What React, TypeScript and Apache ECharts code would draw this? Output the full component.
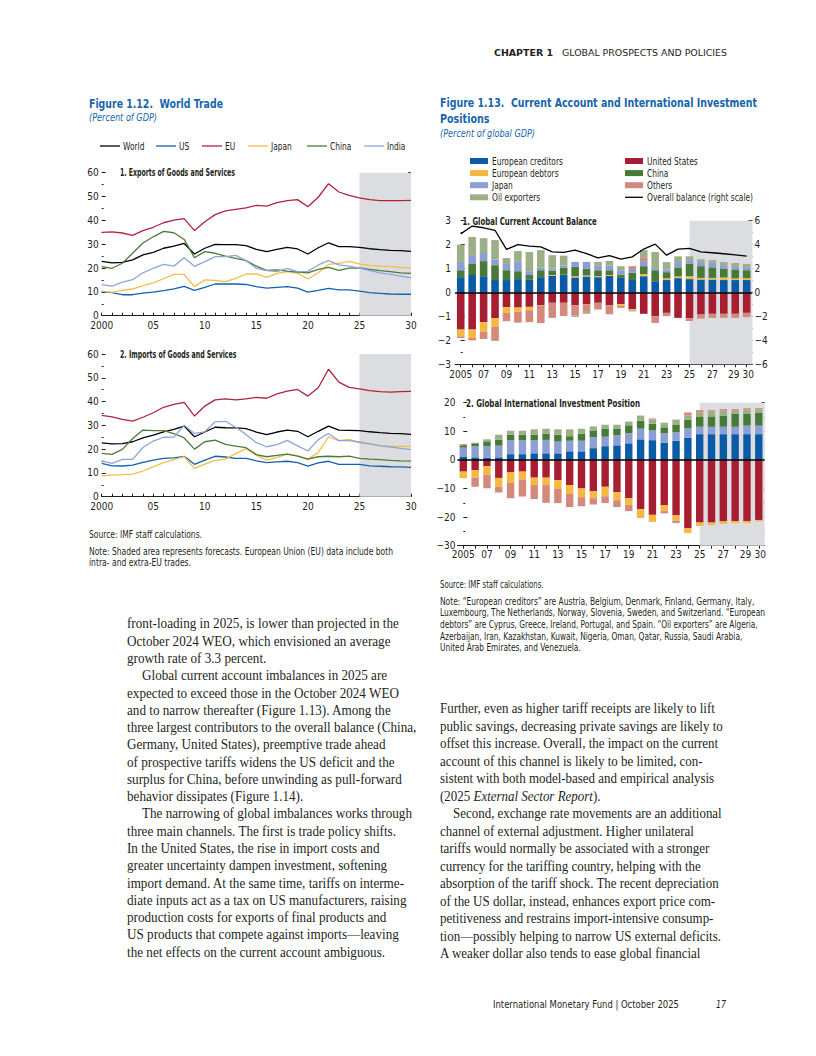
import React, { useEffect, useLayoutEffect, useMemo, useRef, useState } from "react";
import * as echarts from "echarts";

// ---------- DATA ----------
const tradeYears = [2000, 2001, 2002, 2003, 2004, 2005, 2006, 2007, 2008, 2009, 2010, 2011, 2012, 2013, 2014, 2015, 2016, 2017, 2018, 2019, 2020, 2021, 2022, 2023, 2024, 2025, 2026, 2027, 2028, 2029, 2030];
const tradeTickYears = [2000, 2005, 2010, 2015, 2020, 2025, 2030];
const tradeTickLabels = ["2000", "05", "10", "15", "20", "25", "30"];
const tradeForecastStart = 2025;

const exportsWorld = [22.8, 22.2, 22.4, 23.4, 25.5, 26.6, 28.3, 29.2, 30.3, 25.9, 28.3, 29.9, 29.8, 29.8, 29.4, 27.8, 26.9, 27.8, 28.7, 28.0, 25.9, 28.5, 30.6, 29.0, 29.0, 28.7, 28.1, 27.7, 27.4, 27.3, 27.0];
const exportsUS = [10.1, 9.7, 8.8, 8.8, 9.5, 9.9, 10.5, 11.3, 12.3, 10.6, 11.9, 13.3, 13.3, 13.3, 13.1, 12.2, 11.6, 11.9, 12.2, 11.6, 9.9, 10.6, 11.5, 10.8, 10.8, 10.3, 9.7, 9.4, 9.1, 9.0, 9.0];
const exportsEU = [35.0, 35.2, 34.7, 33.7, 35.7, 37.1, 39.0, 40.1, 40.7, 35.7, 39.4, 42.4, 44.0, 44.6, 45.2, 46.3, 46.0, 47.4, 48.3, 48.7, 45.7, 49.7, 55.4, 51.9, 50.5, 49.4, 48.7, 48.3, 48.3, 48.3, 48.4];
const exportsJapan = [10.3, 9.8, 10.6, 11.2, 12.6, 13.8, 15.5, 17.3, 17.3, 12.2, 15.0, 14.8, 14.3, 15.7, 17.5, 17.5, 16.1, 17.8, 18.5, 17.8, 15.4, 18.0, 21.5, 22.0, 22.8, 21.7, 21.1, 20.8, 20.6, 20.3, 20.0];
const exportsChina = [20.6, 19.9, 22.0, 26.2, 30.5, 33.1, 35.4, 34.8, 32.0, 24.3, 26.9, 26.2, 25.0, 24.1, 23.1, 20.8, 19.0, 19.2, 18.7, 18.3, 18.0, 19.4, 20.3, 19.0, 20.0, 20.1, 19.4, 18.9, 18.5, 18.0, 17.8];
const exportsIndia = [13.0, 12.4, 14.1, 15.1, 18.0, 19.9, 21.5, 20.8, 24.3, 20.7, 22.7, 24.8, 24.8, 25.3, 23.1, 19.9, 18.9, 18.5, 19.9, 18.5, 18.6, 21.3, 23.1, 21.3, 20.8, 20.0, 18.9, 18.0, 17.3, 16.6, 15.9];

const importsWorld = [22.6, 22.2, 22.3, 23.1, 24.7, 25.9, 27.3, 28.3, 29.7, 25.2, 27.2, 29.2, 29.0, 28.9, 28.6, 27.2, 26.1, 27.2, 28.0, 27.5, 25.2, 27.5, 29.7, 28.0, 27.9, 27.8, 27.3, 26.9, 26.6, 26.5, 26.2];
const importsUS = [14.0, 13.0, 12.9, 13.3, 14.4, 15.4, 16.1, 16.3, 17.0, 13.6, 15.4, 17.0, 16.7, 16.1, 16.1, 15.1, 14.3, 14.6, 14.9, 14.3, 12.9, 14.2, 14.9, 13.6, 13.6, 13.6, 13.0, 12.8, 12.6, 12.5, 12.3];
const importsEU = [34.2, 33.6, 32.5, 31.8, 33.4, 35.3, 37.6, 38.8, 39.7, 33.9, 38.1, 40.7, 41.1, 40.7, 41.1, 41.8, 41.4, 43.2, 44.4, 45.1, 42.3, 45.8, 53.6, 48.2, 46.0, 45.3, 44.6, 44.2, 44.0, 44.2, 44.3];
const importsJapan = [8.8, 9.1, 9.3, 9.5, 10.8, 12.5, 14.3, 15.6, 16.8, 11.9, 13.7, 15.3, 15.8, 18.1, 20.2, 17.5, 15.4, 16.5, 17.9, 17.2, 15.7, 18.6, 25.1, 23.6, 24.1, 22.7, 22.2, 21.6, 21.3, 21.2, 21.2];
const importsChina = [18.2, 17.8, 19.9, 24.5, 28.0, 27.8, 27.8, 26.5, 24.7, 20.0, 23.1, 23.8, 22.0, 21.3, 20.6, 17.7, 16.8, 17.4, 17.9, 17.1, 15.8, 16.8, 17.0, 16.8, 17.1, 16.1, 15.8, 15.6, 15.3, 15.1, 15.0];
const importsIndia = [15.1, 14.0, 15.7, 15.7, 20.7, 23.4, 25.0, 25.1, 30.0, 26.6, 27.3, 31.5, 31.7, 29.2, 26.2, 22.7, 21.0, 21.9, 23.7, 21.4, 19.2, 24.0, 26.6, 23.6, 23.6, 23.0, 22.2, 21.4, 20.9, 20.3, 19.8];

const caYears = ["2005", "2006", "2007", "2008", "2009", "2010", "2011", "2012", "2013", "2014", "2015", "2016", "2017", "2018", "2019", "2020", "2021", "2022", "2023", "2024", "2025", "2026", "2027", "2028", "2029", "2030"];
const caLabelCats = ["2005", "2007", "2009", "2011", "2013", "2015", "2017", "2019", "2021", "2023", "2025", "2027", "2029", "2030"];
const caLabelText = ["2005", "07", "09", "11", "13", "15", "17", "19", "21", "23", "25", "27", "29", "30"];
const caForecastStartIndex = 20;

const caCreditors = [0.64, 0.73, 0.68, 0.52, 0.52, 0.56, 0.53, 0.64, 0.70, 0.73, 0.63, 0.67, 0.64, 0.69, 0.61, 0.52, 0.68, 0.47, 0.52, 0.60, 0.56, 0.54, 0.54, 0.52, 0.52, 0.52];
const caDebtors = [-0.28, -0.35, -0.41, -0.37, -0.24, -0.18, -0.14, -0.02, 0.03, 0.01, 0.05, 0.04, 0.04, 0.04, -0.07, -0.04, 0.09, 0.0, 0.07, 0.07, 0.12, 0.07, 0.07, 0.11, 0.07, 0.08];
const caChina = [0.29, 0.46, 0.63, 0.62, 0.41, 0.33, 0.20, 0.29, 0.18, 0.29, 0.39, 0.28, 0.25, 0.20, 0.14, 0.30, 0.33, 0.46, 0.26, 0.38, 0.53, 0.49, 0.44, 0.37, 0.37, 0.33];
const caJapan = [0.35, 0.34, 0.34, 0.24, 0.26, 0.39, 0.16, 0.10, 0.08, 0.10, 0.21, 0.29, 0.21, 0.19, 0.18, 0.16, 0.21, 0.09, 0.11, 0.22, 0.14, 0.17, 0.19, 0.14, 0.14, 0.13];
const caOthers = [-0.07, -0.10, -0.29, -0.58, -0.35, -0.45, -0.50, -0.72, -0.63, -0.55, -0.42, -0.32, -0.28, -0.38, -0.08, 0.12, 0.14, -0.28, -0.14, 0.0, -0.12, -0.17, -0.17, -0.17, -0.17, -0.18];
const caOil = [0.72, 0.79, 0.62, 0.81, 0.25, 0.45, 0.80, 0.74, 0.57, 0.41, -0.07, -0.08, 0.14, 0.20, 0.17, -0.05, 0.32, 0.67, 0.31, 0.24, 0.16, 0.12, 0.11, 0.13, 0.13, 0.13];
const caUS = [-1.55, -1.55, -1.24, -1.07, -0.61, -0.63, -0.60, -0.54, -0.43, -0.43, -0.53, -0.49, -0.43, -0.53, -0.49, -0.70, -0.89, -0.99, -0.85, -1.06, -1.07, -0.92, -0.89, -0.89, -0.89, -0.85];
const caOverall = [4.9, 5.55, 5.41, 5.2, 3.6, 4.0, 3.88, 3.82, 3.4, 3.35, 3.54, 3.24, 2.9, 3.08, 2.79, 2.98, 3.63, 4.04, 3.12, 3.63, 3.68, 3.4, 3.32, 3.24, 3.15, 3.04];

const iipCreditors = [1.2, 0.9, 0.8, 0.9, 2.0, 2.0, 2.3, 2.3, 2.3, 3.0, 3.0, 4.1, 4.8, 5.1, 5.8, 7.2, 6.9, 6.0, 6.7, 7.8, 9.0, 9.0, 9.0, 9.0, 9.0, 9.0];
const iipJapan = [3.1, 3.9, 4.0, 4.1, 4.9, 4.9, 4.6, 4.7, 4.1, 3.7, 3.7, 3.8, 3.3, 3.5, 3.5, 3.7, 3.4, 3.3, 3.0, 3.2, 2.6, 2.6, 2.6, 2.6, 3.0, 3.0];
const iipChina = [0.8, 1.0, 1.7, 2.1, 1.9, 1.9, 1.9, 2.2, 2.4, 1.6, 2.4, 2.4, 2.9, 2.4, 2.8, 2.8, 2.3, 2.1, 2.7, 3.1, 3.6, 3.6, 3.9, 4.6, 4.2, 4.5];
const iipOil = [0.0, 0.2, 0.7, 1.7, 1.4, 1.4, 1.9, 1.7, 1.9, 2.4, 1.8, 1.4, 1.3, 1.3, 1.3, 1.8, 1.5, 1.6, 1.7, 1.4, 1.3, 1.7, 1.7, 1.0, 1.4, 1.1];
const iipOthers = [0.4, -3.2, -4.6, -2.0, -5.3, -5.9, -4.9, -6.2, -5.1, -4.6, -3.2, -2.2, -2.4, -2.4, -2.1, -0.2, 0.4, -0.8, -0.9, 1.1, 0.9, 0.5, 0.6, 0.6, 0.5, 0.5];
const iipUS = [-4.1, -3.6, -2.2, -6.3, -4.4, -4.1, -6.2, -6.2, -7.1, -8.8, -10.0, -11.0, -9.4, -11.3, -13.4, -17.2, -19.2, -15.9, -19.4, -23.8, -21.9, -21.9, -21.5, -21.4, -21.4, -21.0];
const iipDebtors = [-2.3, -2.6, -3.1, -3.1, -3.7, -2.8, -2.6, -2.6, -2.9, -3.1, -3.0, -2.4, -3.3, -2.8, -2.4, -2.9, -2.5, -2.0, -1.8, -1.8, -1.2, -0.9, -0.9, -0.7, -0.7, -0.5];

// ---------- STYLE ----------
const INK = "#231f20";
const TITLE_BLUE = "#1765ad";
const SHADE = "#dcdde0";
const SANS = "'Liberation Sans Narrow', 'DejaVu Sans Condensed', 'Arial Narrow', 'Liberation Sans', sans-serif";
const SERIF = "'Liberation Serif', 'DejaVu Serif', serif";

const C = {
  world: "#000000",
  us: "#1262ad",
  eu: "#b0233b",
  japan: "#f5bd48",
  china: "#4b7c38",
  india: "#8fa5da",
  creditors: "#0b5aa6",
  debtors: "#f5b841",
  japanCA: "#8b9fd5",
  oil: "#9daf86",
  usCA: "#a71d32",
  chinaCA: "#477a36",
  others: "#d3897b",
};

const minus = (v: number) => String(v).replace("-", "\u2212");
const axisText = { color: INK, fontFamily: SANS, fontSize: 10 };

let measureCtx: CanvasRenderingContext2D | null = null;
function textWidth(text: string, size: number, weight: string = "normal") {
  if (!measureCtx) measureCtx = document.createElement("canvas").getContext("2d");
  if (!measureCtx) return text.length * size * 0.5;
  measureCtx.font = `${weight} ${size}px ${SANS}`;
  return measureCtx.measureText(text).width;
}

function TextLine(p: {
  x: number; y: number; w?: number; k?: number; size: number; family: string;
  weight?: string | number; italic?: boolean; color?: string; children: React.ReactNode;
}) {
  const ref = useRef<HTMLSpanElement>(null);
  const [fit, setFit] = useState(1);
  useLayoutEffect(() => {
    if (p.w && ref.current) {
      const nat = ref.current.getBoundingClientRect().width;
      if (nat > 0) setFit(p.w / nat);
    }
  }, [p.w]);
  const lh = p.size * 1.3;
  const s = p.w ? fit : p.k ?? 1;
  return (
    <div
      style={{
        position: "absolute", left: p.x, top: p.y - lh / 2, height: lh, lineHeight: `${lh}px`,
        fontSize: p.size, fontFamily: p.family, fontWeight: p.weight ?? "normal",
        fontStyle: p.italic ? "italic" : "normal", color: p.color ?? INK, whiteSpace: "pre",
        transform: `scaleX(${s})`, transformOrigin: "0 0",
      }}
    >
      <span ref={ref}>{p.children}</span>
    </div>
  );
}

const leftBody: { t: React.ReactNode; indent?: boolean }[] = [
  { t: "front-loading in 2025, is lower than projected in the" },
  { t: "October 2024 WEO, which envisioned an average" },
  { t: "growth rate of 3.3 percent." },
  { t: "Global current account imbalances in 2025 are", indent: true },
  { t: "expected to exceed those in the October 2024 WEO" },
  { t: "and to narrow thereafter (Figure 1.13). Among the" },
  { t: "three largest contributors to the overall balance (China," },
  { t: "Germany, United States), preemptive trade ahead" },
  { t: "of prospective tariffs widens the US deficit and the" },
  { t: "surplus for China, before unwinding as pull-forward" },
  { t: "behavior dissipates (Figure 1.14)." },
  { t: "The narrowing of global imbalances works through", indent: true },
  { t: "three main channels. The first is trade policy shifts." },
  { t: "In the United States, the rise in import costs and" },
  { t: "greater uncertainty dampen investment, softening" },
  { t: "import demand. At the same time, tariffs on interme-" },
  { t: "diate inputs act as a tax on US manufacturers, raising" },
  { t: "production costs for exports of final products and" },
  { t: "US products that compete against imports\u2014leaving" },
  { t: "the net effects on the current account ambiguous." },
];

const rightBody: { t: React.ReactNode; indent?: boolean }[] = [
  { t: "Further, even as higher tariff receipts are likely to lift" },
  { t: "public savings, decreasing private savings are likely to" },
  { t: "offset this increase. Overall, the impact on the current" },
  { t: "account of this channel is likely to be limited, con-" },
  { t: "sistent with both model-based and empirical analysis" },
  { t: <>(2025 <i>External Sector Report</i>).</> },
  { t: "Second, exchange rate movements are an additional", indent: true },
  { t: "channel of external adjustment. Higher unilateral" },
  { t: "tariffs would normally be associated with a stronger" },
  { t: "currency for the tariffing country, helping with the" },
  { t: "absorption of the tariff shock. The recent depreciation" },
  { t: "of the US dollar, instead, enhances export price com-" },
  { t: "petitiveness and restrains import-intensive consump-" },
  { t: "tion\u2014possibly helping to narrow US external deficits." },
  { t: "A weaker dollar also tends to ease global financial" },
];

// legend entries (label, colour)
const tradeLegend: [string, string][] = [["World", C.world], ["US", C.us], ["EU", C.eu], ["Japan", C.japan], ["China", C.china], ["India", C.india]];
const caLegendLeft: [string, string][] = [["European creditors", C.creditors], ["European debtors", C.debtors], ["Japan", C.japanCA], ["Oil exporters", C.oil]];
const caLegendRight: [string, string][] = [["United States", C.usCA], ["China", C.chinaCA], ["Others", C.others], ["Overall balance (right scale)", "#000000"]];

function buildOption() {
  const lineSeries = (name: string, color: string, vals: number[], xi: number, yi: number) => ({
    type: "line", name, xAxisIndex: xi, yAxisIndex: yi, symbol: "none", z: 3,
    lineStyle: { color, width: 1.3 }, itemStyle: { color },
    data: tradeYears.map((y, i) => [y, vals[i]]),
  });
  const shade = (name: string, xi: number, yi: number, from: number, to: number) => ({
    type: "line", name, xAxisIndex: xi, yAxisIndex: yi, data: [], silent: true,
    markArea: { silent: true, label: { show: false }, itemStyle: { color: SHADE }, data: [[{ xAxis: from }, { xAxis: to }]] },
  });
  const zeroLine = { silent: true, symbol: ["none", "none"], label: { show: false }, lineStyle: { color: "#000", width: 1.5, type: "solid" }, data: [{ yAxis: 0 }] };
  const bar = (name: string, color: string, vals: number[], xi: number, yi: number, stack: string, w: number, extra: any = {}) => ({
    type: "bar", name, xAxisIndex: xi, yAxisIndex: yi, stack, stackStrategy: "samesign", barWidth: w,
    itemStyle: { color }, data: vals, z: 2, ...extra,
  });

  const tradeX = (g: number) => ({
    type: "value", gridIndex: g, min: 2000, max: 2030, interval: 1,
    axisLine: { show: true, onZero: false, lineStyle: { color: INK, width: 1 } },
    axisTick: { show: true, inside: true, length: 3, lineStyle: { color: INK } },
    axisLabel: { ...axisText, margin: 5, formatter: (v: number) => { const i = tradeTickYears.indexOf(v); return i >= 0 ? tradeTickLabels[i] : ""; } },
    splitLine: { show: false },
  });
  const yLeft = (g: number, min: number, max: number, interval: number, margin = 3) => ({
    type: "value", gridIndex: g, position: "left", min, max, interval,
    axisLine: { show: false },
    axisTick: { show: true, inside: true, length: 4, lineStyle: { color: INK } },
    minorTick: { show: true, splitNumber: 2, length: 2, lineStyle: { color: INK } },
    axisLabel: { ...axisText, margin, formatter: minus },
    splitLine: { show: false }, minorSplitLine: { show: false },
  });
  const yRight = (g: number, min: number, max: number, interval: number, labels: boolean) => ({
    type: "value", gridIndex: g, position: "right", min, max, interval,
    axisLine: { show: false },
    axisTick: { show: true, inside: true, length: labels ? 4 : 3, lineStyle: { color: INK } },
    minorTick: { show: labels, splitNumber: 2, length: 2, lineStyle: { color: INK } },
    axisLabel: { ...axisText, show: labels, margin: 2, formatter: minus },
    splitLine: { show: false },
  });
  const richBase = { fontSize: 10, fontFamily: SANS, color: INK };
  const catX = (g: number) => ({
    type: "category", gridIndex: g, data: caYears, boundaryGap: true,
    axisLine: { show: true, onZero: false, lineStyle: { color: INK, width: 1 } },
    axisTick: { show: true, inside: false, length: 3, alignWithLabel: true, interval: 0, lineStyle: { color: INK } },
    axisLabel: {
      ...axisText, interval: 0, margin: g === 2 ? 5 : 4,
      rich: { l: { ...richBase, padding: [0, 3, 0, 0] }, r: { ...richBase, padding: [0, 0, 0, 3] } },
      formatter: (v: string) => {
        const i = caLabelCats.indexOf(v);
        if (i < 0) return "";
        if (i === caLabelCats.length - 2) return `{l|${caLabelText[i]}}`;
        if (i === caLabelCats.length - 1) return `{r|${caLabelText[i]}}`;
        return caLabelText[i];
      },
    },
    splitLine: { show: false },
  });
  const hiddenX = (g: number) => ({ type: "value", gridIndex: g, min: -0.5, max: caYears.length - 0.5, show: false });

  // fitted graphic texts (condensed look)
  const fitted = (text: string, x: number, y: number, targetW: number, size: number, weight = "normal") => ({
    type: "text", x, y, silent: true, scaleX: targetW / textWidth(text, size, weight),
    style: { text, fill: INK, fontFamily: SANS, fontSize: size, fontWeight: weight, verticalAlign: "middle", align: "left" },
  });
  const legendK = 106 / textWidth("Overall balance (right scale)", 10.5);
  const legendText = (text: string, x: number, y: number) => ({
    type: "text", x, y, silent: true, scaleX: legendK,
    style: { text, fill: INK, fontFamily: SANS, fontSize: 10.5, verticalAlign: "middle", align: "left" },
  });

  const tradeLegendX = [100, 156, 202, 248, 307, 364];
  const legendRowsY = [161, 173.1, 185.2, 197.3];
  const graphics: any[] = [
    fitted("1. Exports of Goods and Services", 120, 172.7, 115, 10.8, "bold"),
    fitted("2. Imports of Goods and Services", 120, 354, 116.7, 10.8, "bold"),
    fitted("1. Global Current Account Balance", 462.5, 220.7, 134.5, 10.8, "bold"),
    fitted("2. Global International Investment Position", 466, 402.7, 174, 10.8, "bold"),
  ];
  tradeLegend.forEach(([name, color], i) => {
    const x = tradeLegendX[i];
    graphics.push({ type: "line", silent: true, shape: { x1: x, y1: 146, x2: x + 20, y2: 146 }, style: { stroke: color, lineWidth: 1.3 } });
    graphics.push(legendText(name, x + 23, 146));
  });
  caLegendLeft.forEach(([name, color], i) => {
    const y = legendRowsY[i];
    graphics.push({ type: "rect", silent: true, shape: { x: 470, y: y - 3, width: 18, height: 6 }, style: { fill: color } });
    graphics.push(legendText(name, 492, y));
  });
  caLegendRight.forEach(([name, color], i) => {
    const y = legendRowsY[i];
    if (i === caLegendRight.length - 1) {
      graphics.push({ type: "line", silent: true, shape: { x1: 625, y1: y, x2: 643, y2: y }, style: { stroke: color, lineWidth: 1.3 } });
    } else {
      graphics.push({ type: "rect", silent: true, shape: { x: 625, y: y - 3, width: 18, height: 6 }, style: { fill: color } });
    }
    graphics.push(legendText(name, 647, y));
  });

  return {
    animation: false,
    textStyle: { fontFamily: SANS },
    grid: [
      { left: 101.7, top: 172.7, width: 309.3, height: 143, containLabel: false, outerBoundsMode: "none" },
      { left: 101.7, top: 354, width: 309.3, height: 142.7, containLabel: false, outerBoundsMode: "none" },
      { left: 455, top: 220.7, width: 297.4, height: 143.6, containLabel: false, outerBoundsMode: "none" },
      { left: 457.4, top: 402.7, width: 307.3, height: 143, containLabel: false, outerBoundsMode: "none" },
    ],
    xAxis: [tradeX(0), tradeX(1), catX(2), hiddenX(2), catX(3), hiddenX(3)],
    yAxis: [
      yLeft(0, 0, 60, 10), yRight(0, 0, 60, 5, false),
      yLeft(1, 0, 60, 10), yRight(1, 0, 60, 5, false),
      yLeft(2, -3, 3, 1, 4), yRight(2, -6, 6, 2, true),
      yLeft(3, -30, 20, 10, 2), yRight(3, -30, 20, 5, false),
    ],
    graphic: graphics,
    series: [
      shade("shadeExports", 0, 0, tradeForecastStart, 2030),
      shade("shadeImports", 1, 2, tradeForecastStart, 2030),
      lineSeries("World", C.world, exportsWorld, 0, 0),
      lineSeries("US", C.us, exportsUS, 0, 0),
      lineSeries("EU", C.eu, exportsEU, 0, 0),
      lineSeries("Japan", C.japan, exportsJapan, 0, 0),
      lineSeries("China", C.china, exportsChina, 0, 0),
      lineSeries("India", C.india, exportsIndia, 0, 0),
      lineSeries("World", C.world, importsWorld, 1, 2),
      lineSeries("US", C.us, importsUS, 1, 2),
      lineSeries("EU", C.eu, importsEU, 1, 2),
      lineSeries("Japan", C.japan, importsJapan, 1, 2),
      lineSeries("China", C.china, importsChina, 1, 2),
      lineSeries("India", C.india, importsIndia, 1, 2),

      shade("shadeCA", 3, 4, caForecastStartIndex, caYears.length - 0.5),
      bar("United States", C.usCA, caUS, 2, 4, "ca", 7.6, { markLine: zeroLine }),
      bar("European creditors", C.creditors, caCreditors, 2, 4, "ca", 7.6),
      bar("European debtors", C.debtors, caDebtors, 2, 4, "ca", 7.6),
      bar("China (CA)", C.chinaCA, caChina, 2, 4, "ca", 7.6),
      bar("Japan (CA)", C.japanCA, caJapan, 2, 4, "ca", 7.6),
      bar("Others", C.others, caOthers, 2, 4, "ca", 7.6),
      bar("Oil exporters", C.oil, caOil, 2, 4, "ca", 7.6),
      {
        type: "line", name: "Overall balance (right scale)", xAxisIndex: 3, yAxisIndex: 5, symbol: "none", z: 4,
        lineStyle: { color: "#000", width: 1.3 }, itemStyle: { color: "#000" },
        data: caOverall.map((v, i) => [i, v]),
      },

      shade("shadeIIP", 5, 6, caForecastStartIndex, caYears.length - 0.5),
      bar("United States", C.usCA, iipUS, 4, 6, "iip", 7.4, { markLine: zeroLine }),
      bar("European creditors", C.creditors, iipCreditors, 4, 6, "iip", 7.4),
      bar("European debtors", C.debtors, iipDebtors, 4, 6, "iip", 7.4),
      bar("Japan (CA)", C.japanCA, iipJapan, 4, 6, "iip", 7.4),
      bar("China (CA)", C.chinaCA, iipChina, 4, 6, "iip", 7.4),
      bar("Oil exporters", C.oil, iipOil, 4, 6, "iip", 7.4),
      bar("Others", C.others, iipOthers, 4, 6, "iip", 7.4),
    ],
  };
}

export default function App() {
  const chartRef = useRef<HTMLDivElement>(null);

  useEffect(() => {
    if (!chartRef.current) return;
    const chart = echarts.init(chartRef.current, undefined, { renderer: "svg" });
    chart.setOption(buildOption() as any);
    return () => chart.dispose();
  }, []);

  const [leftK, rightK] = useMemo(() => {
    const ctx = document.createElement("canvas").getContext("2d");
    if (!ctx) return [1, 1];
    ctx.font = `14px ${SERIF}`;
    const a = ctx.measureText("three largest contributors to the overall balance (China,").width;
    const b = ctx.measureText("tion\u2014possibly helping to narrow US external deficits.").width;
    return [289.4 / a, 281 / b];
  }, []);

  const note = 10;
  return (
    <div style={{ position: "absolute", left: 0, top: 0, width: 816, height: 1056, background: "#fff", overflow: "hidden" }}>
      <div ref={chartRef} style={{ position: "absolute", left: 0, top: 0, width: 816, height: 1056 }} />

      {/* header */}
      <TextLine x={494} y={53} w={59} size={9.5} family={SANS} weight="bold">CHAPTER 1</TextLine>
      <TextLine x={562} y={53} w={165} size={9.5} family={SANS}>GLOBAL PROSPECTS AND POLICIES</TextLine>

      {/* figure 1.12 */}
      <TextLine x={89} y={104} w={134} size={13} family={SANS} weight="bold" color={TITLE_BLUE}>{"Figure 1.12.  World Trade"}</TextLine>
      <TextLine x={89} y={117.5} w={68} size={10} family={SANS} italic color={TITLE_BLUE}>(Percent of GDP)</TextLine>
      <TextLine x={89} y={534.5} w={113} size={note} family={SANS}>Source: IMF staff calculations.</TextLine>
      <TextLine x={89} y={551.3} w={304} size={note} family={SANS}>Note: Shaded area represents forecasts. European Union (EU) data include both</TextLine>
      <TextLine x={89} y={562.7} w={102} size={note} family={SANS}>intra- and extra-EU trades.</TextLine>

      {/* figure 1.13 */}
      <TextLine x={440} y={103.5} w={317} size={13} family={SANS} weight="bold" color={TITLE_BLUE}>{"Figure 1.13.  Current Account and International Investment"}</TextLine>
      <TextLine x={440} y={119.3} w={49.5} size={13} family={SANS} weight="bold" color={TITLE_BLUE}>Positions</TextLine>
      <TextLine x={440} y={133.3} w={95} size={10} family={SANS} italic color={TITLE_BLUE}>(Percent of global GDP)</TextLine>
      <TextLine x={440} y={584.3} w={103.5} size={note} family={SANS}>Source: IMF staff calculations.</TextLine>
      <TextLine x={440} y={601.3} w={314.3} size={note} family={SANS}>{"Note: \u201cEuropean creditors\u201d are Austria, Belgium, Denmark, Finland, Germany, Italy,"}</TextLine>
      <TextLine x={440} y={612.7} w={325} size={note} family={SANS}>{"Luxembourg, The Netherlands, Norway, Slovenia, Sweden, and Switzerland. \u201cEuropean"}</TextLine>
      <TextLine x={440} y={624.3} w={317.7} size={note} family={SANS}>{"debtors\u201d are Cyprus, Greece, Ireland, Portugal, and Spain. \u201cOil exporters\u201d are Algeria,"}</TextLine>
      <TextLine x={440} y={636} w={302.3} size={note} family={SANS}>Azerbaijan, Iran, Kazakhstan, Kuwait, Nigeria, Oman, Qatar, Russia, Saudi Arabia,</TextLine>
      <TextLine x={440} y={647.7} w={140.7} size={note} family={SANS}>United Arab Emirates, and Venezuela.</TextLine>

      {/* body text */}
      {leftBody.map((l, i) => (
        <TextLine key={"l" + i} x={l.indent ? 141.7 : 127.3} y={624.5 + i * 17.28} k={leftK} size={14} family={SERIF}>{l.t}</TextLine>
      ))}
      {rightBody.map((l, i) => (
        <TextLine key={"r" + i} x={l.indent ? 453.3 : 440} y={709.3 + i * 17.5} k={rightK} size={14} family={SERIF}>{l.t}</TextLine>
      ))}

      {/* footer */}
      <TextLine x={493} y={1004} w={186} size={10} family={SANS}>International Monetary Fund | October 2025</TextLine>
      <TextLine x={716} y={1004} w={10} size={10} family={SANS} italic>17</TextLine>
    </div>
  );
}
